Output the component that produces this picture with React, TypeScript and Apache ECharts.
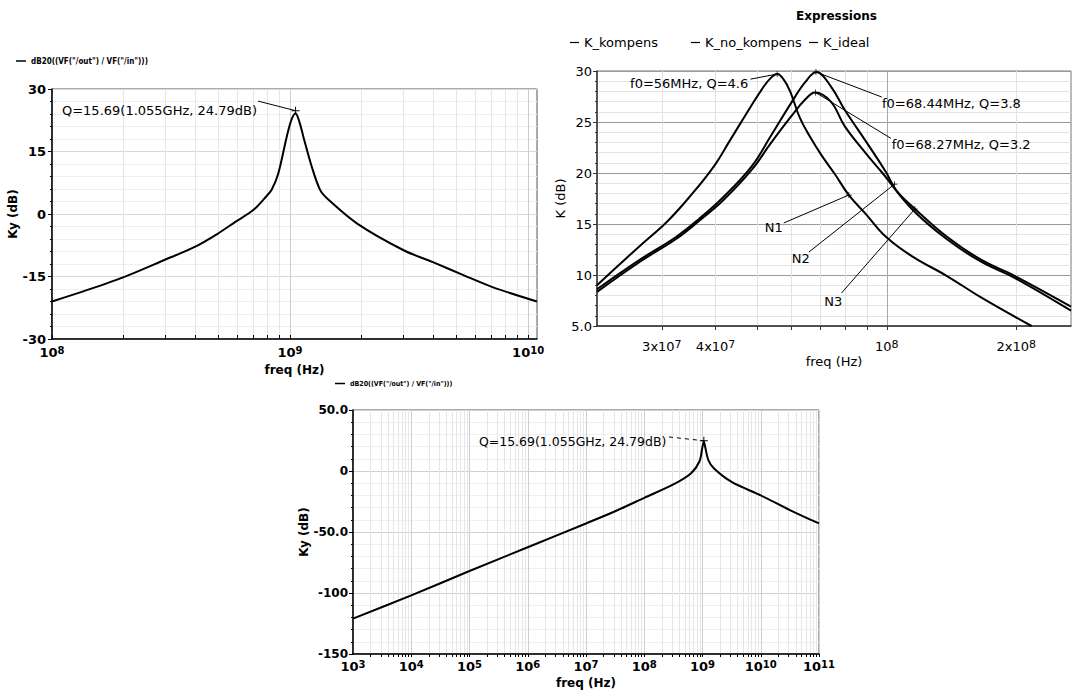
import React, { useEffect, useRef } from 'react';
import * as echarts from 'echarts';

const FONT = 'DejaVu Sans';
const LEG = 'dB20((VF("/out") / VF("/in")))';

// ---------- Panel 1 (top-left): Ky (dB) vs freq, 1e8 .. 1.09e10 ----------
const p1Freq = [1.0e8, 1.38e8, 1.99e8, 2.95e8, 3.98e8, 4.98e8, 5.89e8, 7.03e8, 7.94e8, 8.37e8, 8.93e8, 9.68e8, 1.012e9, 1.055e9, 1.096e9, 1.138e9, 1.233e9, 1.337e9, 1.452e9, 1.914e9, 3.0e9, 3.96e9, 5.41e9, 7.13e9, 1.09e10];
const p1Ky = [-21.0, -18.4, -15.2, -11.1, -7.9, -4.7, -1.9, 1.0, 4.2, 5.8, 9.8, 18.5, 22.5, 24.2, 22.0, 18.5, 11.4, 5.8, 3.4, -2.3, -8.7, -11.5, -14.8, -17.6, -21.0];
const p1Peak = [1.055e9, 24.79];
const p1Label = 'Q=15.69(1.055GHz, 24.79dB)';

// ---------- Panel 2 (top-right): K (dB) ----------
const p2FreqNo = [2.12e7, 2.415e7, 2.69e7, 3.08e7, 3.47e7, 3.94e7, 4.32e7, 4.81e7, 5.18e7, 5.37e7, 5.56e7, 5.75e7, 5.96e7, 6.28e7, 6.64e7, 7.06e7, 7.57e7, 8.17e7, 8.93e7, 9.95e7, 1.148e8, 1.38e8, 1.656e8, 2.17e8];
const p2KNoKompens = [9.0, 11.2, 13.0, 15.2, 17.6, 20.5, 23.2, 26.4, 28.5, 29.3, 29.7, 29.2, 28.0, 25.4, 23.5, 21.7, 19.9, 17.8, 16.0, 13.75, 11.8, 9.9, 7.8, 5.0];
const p2FreqK = [2.12e7, 2.69e7, 3.23e7, 3.66e7, 4.16e7, 4.84e7, 5.37e7, 5.98e7, 6.46e7, 6.86e7, 7.41e7, 7.98e7, 8.91e7, 9.95e7, 1.052e8, 1.148e8, 1.38e8, 1.656e8, 1.986e8, 2.68e8];
const p2KKompens = [8.6, 11.6, 13.7, 15.5, 17.6, 20.6, 23.6, 26.8, 28.9, 29.9, 28.5, 26.2, 23.2, 20.1, 18.3, 16.7, 13.75, 11.5, 9.9, 6.9];
const p2FreqIdeal = [2.12e7, 2.69e7, 3.23e7, 3.66e7, 4.16e7, 4.85e7, 5.37e7, 5.98e7, 6.46e7, 6.81e7, 7.41e7, 7.98e7, 8.91e7, 9.77e7, 1.148e8, 1.38e8, 1.656e8, 1.986e8, 2.68e8];
const p2KIdeal = [8.35, 11.4, 13.5, 15.3, 17.3, 20.3, 22.9, 25.5, 27.2, 27.9, 27.0, 24.6, 22.0, 20.0, 16.4, 13.5, 11.3, 9.7, 6.5];
const p2XLabels = [3e7, 4e7, 1e8, 2e8];
const p2XGrid = [3e7, 4e7, 5e7, 6e7, 7e7, 8e7, 9e7, 2e8];

// ---------- Panel 3 (bottom): Ky (dB), 1e3 .. 1e11 ----------
const p3Freq = [1e3, 1e4, 1e5, 1e6, 1e7, 3.16e7, 1e8, 3.16e8, 6.3e8, 8.9e8, 1.0e9, 1.055e9, 1.12e9, 1.26e9, 1.58e9, 3.16e9, 1e10, 3.16e10, 1e11];
const p3Ky = [-121, -102, -82, -62.5, -43, -33, -22, -11, -2, 8, 20, 24.2, 19, 9, 2, -9, -20, -32, -43];

const MULT = [2, 3, 4, 5, 6, 7, 8, 9];
function minorValues(e0: number, e1: number, lo: number, hi: number) {
  const out: number[] = [];
  for (let e = e0; e <= e1; e++) for (const m of MULT) {
    const v = m * Math.pow(10, e);
    if (v > lo * 1.0001 && v < hi * 0.9999) out.push(v);
  }
  return out;
}
function powLabel(v: number) {
  const e = Math.floor(Math.log10(v) + 1e-9);
  const m = Math.round(v / Math.pow(10, e));
  return m === 1 ? `{b|10}{s|${e}}` : `{b|${m}x10}{s|${e}}`;
}
function decadeLabel(v: number) {
  const l = Math.log10(v);
  if (Math.abs(l - Math.round(l)) > 1e-6) return '';
  return powLabel(v);
}
const PLUS = 'path://M4.4,0h1.2v4.4h4.4v1.2h-4.4v4.4h-1.2v-4.4h-4.4v-1.2h4.4z';

const boldRich = {
  b: { fontFamily: FONT, fontWeight: 'bold', fontSize: 13, color: '#000', lineHeight: 14, padding: [4, 0, 0, 0], verticalAlign: 'bottom' },
  s: { fontFamily: FONT, fontWeight: 'bold', fontSize: 10, color: '#000', lineHeight: 10, verticalAlign: 'top' },
};
const normRich = {
  b: { fontFamily: FONT, fontSize: 13, color: '#000', lineHeight: 14, padding: [5, 0, 0, 0], verticalAlign: 'bottom' },
  s: { fontFamily: FONT, fontSize: 11, color: '#000', lineHeight: 11, verticalAlign: 'top' },
};

const boldName = { fontFamily: FONT, fontWeight: 'bold', fontSize: 12, color: '#000' };
const normName = { fontFamily: FONT, fontSize: 13, color: '#000' };

function textPoint(coord: number[], text: string, position: string, fontSize = 13) {
  return {
    coord, symbol: 'circle', symbolSize: 1, itemStyle: { color: 'rgba(0,0,0,0)' },
    label: { show: true, position, distance: 0, formatter: text, color: '#000', fontFamily: FONT, fontSize },
  };
}
function plusPoint(coord: number[], size = 8) {
  return { coord, symbol: PLUS, symbolSize: size, itemStyle: { color: '#000' }, label: { show: false } };
}
function seg(a: number[], b: number[], dashed = false) {
  const ls = { color: '#000', width: 1, type: dashed ? [4, 4] : 'solid' };
  return [{ coord: a, lineStyle: ls }, { coord: b, lineStyle: ls }];
}
function gridLines(vals: number[], color: string) {
  return vals.map((v) => ({ xAxis: v, lineStyle: { color, width: 1, type: 'solid' } }));
}
function zip(xs: number[], ys: number[]) { return xs.map((x, i) => [x, ys[i]]); }

export default function App() {
  const ref = useRef<HTMLDivElement>(null);
  useEffect(() => {
    if (!ref.current) return;
    const chart = echarts.init(ref.current, undefined, { renderer: 'svg' });
    const p1Minor = minorValues(8, 9, 1e8, 1.09e10);
    const p3Minor = minorValues(3, 10, 1e3, 1e11);
    const p1Ticks = [...p1Minor, 1e8, 1e9, 1e10];
    const p3Ticks = [...p3Minor, 1e3, 1e4, 1e5, 1e6, 1e7, 1e8, 1e9, 1e10, 1e11];

    const gridMark = (vals: number[], color: string) => ({
      silent: true, z: 0, zlevel: 0, symbol: ['none', 'none'], label: { show: false }, emphasis: { disabled: true }, data: gridLines(vals, color),
    });
    const curve = (name: string, xi: number, data: number[][], smooth: number | boolean) => ({
      type: 'line', name, xAxisIndex: xi, yAxisIndex: xi, data, showSymbol: false, smooth,
      lineStyle: { color: '#000', width: 2 }, itemStyle: { color: '#000' }, z: 4,
    });

    const option: any = {
      animation: false,
      backgroundColor: '#fff',
      title: { text: 'Expressions', left: 796, top: 10, padding: 0, textStyle: { fontFamily: FONT, fontWeight: 'bold', fontSize: 12, color: '#000' } },
      legend: [
        { left: 16, top: 57, padding: 0, icon: 'rect', itemWidth: 10, itemHeight: 1.5, selectedMode: false, data: [LEG], textStyle: { fontFamily: 'DejaVu Sans Condensed', fontWeight: 'bold', fontSize: 8, color: '#000' } },
        { left: 570, top: 36, padding: 0, icon: 'rect', itemWidth: 9, itemHeight: 1.2, itemGap: 4, selectedMode: false, data: ['K_kompens'], textStyle: normName },
        { left: 691, top: 36, padding: 0, icon: 'rect', itemWidth: 9, itemHeight: 1.2, selectedMode: false, data: ['K_no_kompens'], textStyle: normName },
        { left: 809, top: 36, padding: 0, icon: 'rect', itemWidth: 9, itemHeight: 1.2, selectedMode: false, data: ['K_ideal'], textStyle: normName },
        { left: 335, top: 380, padding: 0, icon: 'rect', itemWidth: 10, itemHeight: 1.5, selectedMode: false, data: [LEG], textStyle: { fontFamily: 'DejaVu Sans Condensed', fontWeight: 'bold', fontSize: 7, color: '#000' } },
      ],
      grid: [
        { left: 52, top: 89, width: 485, height: 250, show: true, borderColor: '#555', borderWidth: 1, backgroundColor: '#fff', outerBoundsMode: 'none' },
        { left: 597, top: 71, width: 474, height: 255, show: true, borderColor: '#777', borderWidth: 1, backgroundColor: '#fff', outerBoundsMode: 'none' },
        { left: 353, top: 410, width: 466, height: 244, show: true, borderColor: '#555', borderWidth: 1, backgroundColor: '#fff', outerBoundsMode: 'none' },
      ],
      xAxis: [
        {
          gridIndex: 0, type: 'log', logBase: 10, min: 1e8, max: 1.09e10,
          axisLine: { show: true, onZero: false, lineStyle: { color: '#000', width: 1.5 } },
          axisTick: { show: true, inside: true, length: 4, customValues: p1Ticks, lineStyle: { color: '#000' } },
          axisLabel: { formatter: decadeLabel, margin: 6, rich: boldRich },
          splitLine: { show: true, lineStyle: { color: '#cccccc' } },
          name: 'freq (Hz)', nameLocation: 'middle', nameGap: 25, nameTextStyle: boldName,
        },
        {
          gridIndex: 1, type: 'log', logBase: 10, min: 2.12e7, max: 2.68e8,
          axisLine: { show: true, onZero: false, lineStyle: { color: '#333', width: 1.5 } },
          axisTick: { show: true, inside: false, length: 4, customValues: [...p2XGrid, 1e8], lineStyle: { color: '#333' } },
          axisLabel: { customValues: p2XLabels, formatter: (v: number) => powLabel(v), margin: 13, rich: normRich },
          splitLine: { show: true, lineStyle: { color: '#a8a8a8' } },
          name: 'freq (Hz)', nameLocation: 'middle', nameGap: 29, nameTextStyle: { fontFamily: FONT, fontSize: 13, color: '#000' },
        },
        {
          gridIndex: 2, type: 'log', logBase: 10, min: 1e3, max: 1e11,
          axisLine: { show: true, onZero: false, lineStyle: { color: '#000', width: 1.5 } },
          axisTick: { show: true, inside: false, length: 3, customValues: p3Ticks, lineStyle: { color: '#000' } },
          axisLabel: { formatter: decadeLabel, margin: 5, rich: boldRich },
          splitLine: { show: true, lineStyle: { color: '#cfcfcf' } },
          name: 'freq (Hz)', nameLocation: 'middle', nameGap: 23, nameTextStyle: boldName,
        },
      ],
      yAxis: [
        {
          gridIndex: 0, type: 'value', min: -30, max: 30, interval: 15,
          axisLine: { show: true, lineStyle: { color: '#000', width: 1.5 } },
          axisTick: { show: true, length: 4, lineStyle: { color: '#000' } },
          minorTick: { show: true, splitNumber: 5, length: 2, lineStyle: { color: '#000' } },
          axisLabel: { fontFamily: FONT, fontWeight: 'bold', fontSize: 13, color: '#000', margin: 6 },
          splitLine: { show: true, lineStyle: { color: '#d8d8d8' } },
          minorSplitLine: { show: true, lineStyle: { color: '#efefef' } },
          name: 'Ky (dB)', nameLocation: 'middle', nameGap: 26, nameTextStyle: boldName,
        },
        {
          gridIndex: 1, type: 'value', min: 5, max: 30, interval: 5,
          axisLine: { show: true, lineStyle: { color: '#333', width: 1.5 } },
          axisTick: { show: true, length: 4, lineStyle: { color: '#333' } },
          minorTick: { show: true, splitNumber: 5, length: 2, lineStyle: { color: '#333' } },
          axisLabel: { fontFamily: FONT, fontSize: 13, color: '#000', margin: 5, formatter: (v: number) => (v === 5 ? '5.0' : String(v)) },
          splitLine: { show: true, lineStyle: { color: '#9a9a9a' } },
          minorSplitLine: { show: true, lineStyle: { color: '#e4e4e4' } },
          name: 'K (dB)', nameLocation: 'middle', nameGap: 23, nameTextStyle: normName,
        },
        {
          gridIndex: 2, type: 'value', min: -150, max: 50, interval: 50,
          axisLine: { show: true, lineStyle: { color: '#000', width: 1.5 } },
          axisTick: { show: true, length: 4, lineStyle: { color: '#000' } },
          minorTick: { show: true, splitNumber: 5, length: 2, lineStyle: { color: '#000' } },
          axisLabel: { fontFamily: FONT, fontWeight: 'bold', fontSize: 12, color: '#000', margin: 5, formatter: (v: number) => (v === 50 ? '50.0' : v === -50 ? '-50.0' : String(v)) },
          splitLine: { show: true, lineStyle: { color: '#d0d0d0' } },
          minorSplitLine: { show: true, lineStyle: { color: '#f0f0f0' } },
          name: 'Ky (dB)', nameLocation: 'middle', nameGap: 39, nameTextStyle: boldName,
        },
      ],
      series: [
        // minor vertical grid lines (drawn beneath the curves)
        { type: 'line', xAxisIndex: 0, yAxisIndex: 0, data: [], silent: true, z: 0, markLine: gridMark(p1Minor, '#e6e6e6') },
        { type: 'line', xAxisIndex: 1, yAxisIndex: 1, data: [], silent: true, z: 0, markLine: gridMark(p2XGrid, '#e2e2e2') },
        { type: 'line', xAxisIndex: 2, yAxisIndex: 2, data: [], silent: true, z: 0, markLine: gridMark(p3Minor, '#e6e6e6') },
        // panel 1 curve
        {
          ...curve(LEG, 0, zip(p1Freq, p1Ky), 0.3),
          markLine: { silent: true, z: 6, symbol: ['none', 'none'], label: { show: false }, data: [seg([7.34e8, 27.1], p1Peak)] },
          markPoint: { silent: true, z: 6, data: [plusPoint(p1Peak), textPoint([7.3e8, 24.96], p1Label, 'left')] },
        },
        // panel 2 curves
        {
          ...curve('K_kompens', 1, zip(p2FreqK, p2KKompens), 0.4),
          markLine: { silent: true, z: 6, symbol: ['none', 'none'], label: { show: false }, data: [seg([6.844e7, 29.9], [9.73e7, 27.45]), seg([6.59e7, 12.25], [1.042e8, 18.9])] },
          markPoint: { silent: true, z: 6, data: [plusPoint([6.844e7, 29.9], 6), plusPoint([1.042e8, 18.9], 6), textPoint([9.72e7, 26.86], 'f0=68.44MHz, Q=3.8', 'right'), textPoint([6.31e7, 11.57], 'N2', 'inside')] },
        },
        {
          ...curve('K_no_kompens', 1, zip(p2FreqNo, p2KNoKompens), 0.4),
          markLine: { silent: true, z: 6, symbol: ['none', 'none'], label: { show: false }, data: [seg([4.82e7, 29.2], [5.56e7, 29.7]), seg([5.76e7, 15.1], [8.16e7, 17.84])] },
          markPoint: { silent: true, z: 6, data: [plusPoint([5.56e7, 29.7], 6), plusPoint([8.16e7, 17.84], 6), textPoint([4.776e7, 28.82], 'f0=56MHz, Q=4.6', 'left'), textPoint([5.46e7, 14.7], 'N1', 'inside')] },
        },
        {
          ...curve('K_ideal', 1, zip(p2FreqIdeal, p2KIdeal), 0.4),
          markLine: { silent: true, z: 6, symbol: ['none', 'none'], label: { show: false }, data: [seg([6.827e7, 27.9], [1.022e8, 23.4]), seg([7.85e7, 8.24], [1.162e8, 16.47])] },
          markPoint: { silent: true, z: 6, data: [plusPoint([6.827e7, 27.9], 6), plusPoint([1.162e8, 16.47], 6), textPoint([1.024e8, 22.84], 'f0=68.27MHz, Q=3.2', 'right'), textPoint([7.51e7, 7.45], 'N3', 'inside')] },
        },
        // panel 3 curve
        {
          ...curve(LEG, 2, zip(p3Freq, p3Ky), 0.3),
          markLine: { silent: true, z: 6, symbol: ['none', 'none'], label: { show: false }, data: [seg([2.66e8, 27.9], p1Peak, true)] },
          markPoint: { silent: true, z: 6, data: [plusPoint(p1Peak), textPoint([2.45e8, 24.0], p1Label, 'left', 12.5)] },
        },
      ],
    };
    chart.setOption(option);
    return () => chart.dispose();
  }, []);
  return <div ref={ref} style={{ position: 'fixed', left: 0, top: 0, width: 1072, height: 690, background: '#fff' }} />;
}
